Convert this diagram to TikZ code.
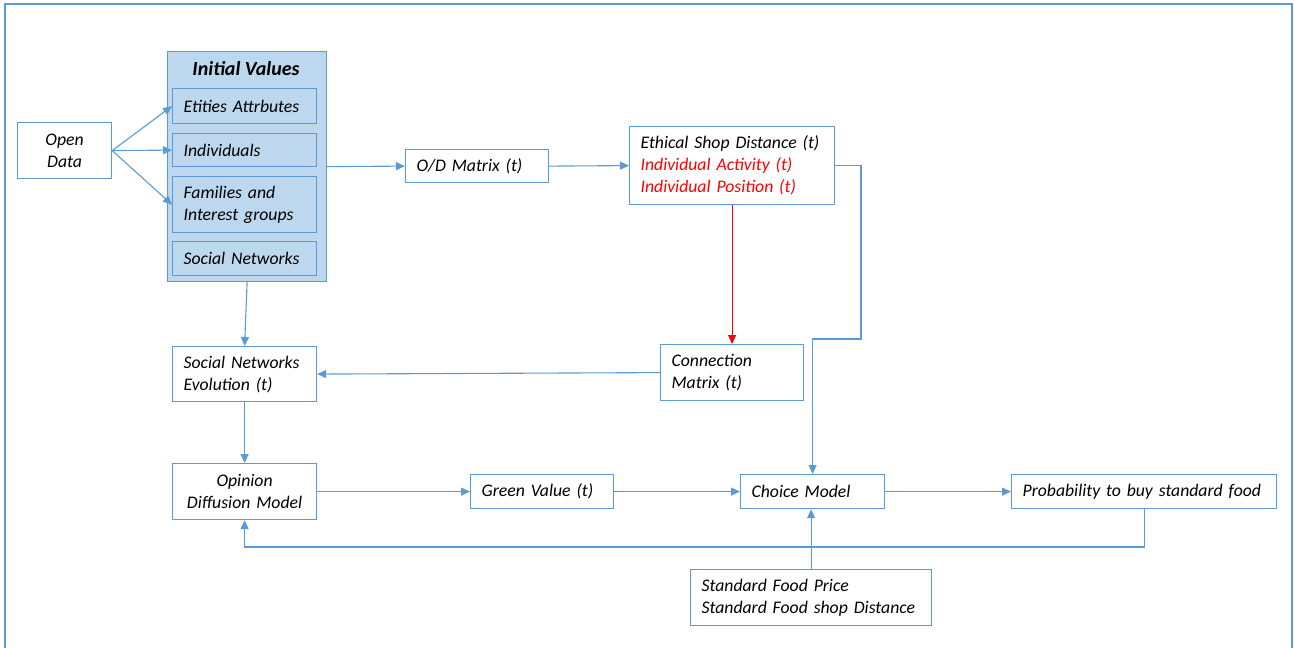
\documentclass[tikz,border=0pt]{standalone}
\usepackage{fontspec}
\setmainfont{Carlito}
\usetikzlibrary{arrows.meta}
\definecolor{lblue}{HTML}{5B9BD5}
\definecolor{fblue}{HTML}{BDD7EE}
\definecolor{rred}{HTML}{FF0000}
\begin{document}
\begin{tikzpicture}[x=1pt,y=-1pt,
  box/.style={draw=lblue, line width=1.2pt, fill=white, anchor=north west,
    font=\fontsize{17.7}{22}\selectfont\itshape, inner xsep=11pt, inner ysep=0pt, align=left},
  cbox/.style={box, align=center},
  ibox/.style={box, fill=fblue},
  arr/.style={draw=lblue, line width=1.1pt, -{Triangle[width=8pt,length=9pt]}},
  rarr/.style={draw=rred, line width=1.1pt, -{Triangle[width=8pt,length=9pt]}}]
\useasboundingbox (0,0) rectangle (1294,648);
\draw[lblue, line width=2.4pt] (5,660) -- (5,4) -- (1292,4) -- (1292,660);

% Initial values container
\node[draw=lblue, line width=1.2pt, fill=fblue, anchor=north west, minimum width=159pt, minimum height=230pt, inner sep=0pt] (iv) at (167,51) {};
\node[font=\fontsize{20}{24}\selectfont\bfseries\itshape] (ivt) at (246,69) {Initial Values};
\node[ibox, text width=122pt, minimum height=35pt] (ea) at (172,88) {Etities Attrbutes};
\node[ibox, text width=122pt, minimum height=33pt] (ind) at (172,133) {Individuals};
\node[ibox, text width=122pt, minimum height=56pt] (fam) at (172,176) {Families and\\Interest groups};
\node[ibox, text width=122pt, minimum height=34pt] (sn) at (172,241) {Social Networks};

\node[cbox, text width=72pt, minimum height=56pt] (open) at (17,122) {Open\\Data};
\node[box, text width=121pt, minimum height=33pt] (odm) at (405,149) {O/D Matrix (t)};
\node[box, text width=183pt, minimum height=78pt] (es) at (629,126) {Ethical Shop Distance (t)\\\textcolor{rred}{Individual Activity (t)}\\\textcolor{rred}{Individual Position (t)}};
\node[box, text width=121pt, minimum height=56pt] (cx) at (660,344) {Connection\\Matrix (t)};
\node[box, text width=122pt, minimum height=55pt] (sne) at (172,346) {Social Networks\\Evolution (t)};
\node[cbox, text width=122pt, minimum height=56pt] (opd) at (172,463) {Opinion\\Diffusion Model};
\node[box, text width=121pt, minimum height=34pt] (gv) at (470,474) {Green Value (t)};
\node[box, text width=122pt, minimum height=34pt] (ch) at (740,474) {Choice Model};
\node[box, text width=243pt, minimum height=34pt] (pb) at (1011,474) {Probability to buy standard food};
\node[box, text width=219pt, minimum height=56pt] (sf) at (690,569) {Standard Food Price\\Standard Food shop Distance};

\coordinate (bend) at (861,339);
\coordinate (loop) at (700,547);

\draw[arr] (open.east) -- (ea.west);
\draw[arr] (open.east) -- (ind.west);
\draw[arr] (open.east) -- (fam.west);
\draw[arr] (iv.east) -- (odm.west);
\draw[arr] (odm.east) -- (es.west);
\draw[rarr] (es.south) -- (cx.north);
\draw[arr] (es.east) -| (bend) -| (ch.north);
\draw[arr] (cx.west) -- (sne.east);
\draw[arr] (iv.south) -- (sne.north);
\draw[arr] (sne.south) -- (opd.north);
\draw[arr] (opd.east) -- (gv.west);
\draw[arr] (gv.east) -- (ch.west);
\draw[arr] (ch.east) -- (pb.west);
\draw[arr] (sf.north) -- (sf.north |- ch.south);
\draw[arr] (pb.south) |- (loop) -| (opd.south);
\end{tikzpicture}
\end{document}
